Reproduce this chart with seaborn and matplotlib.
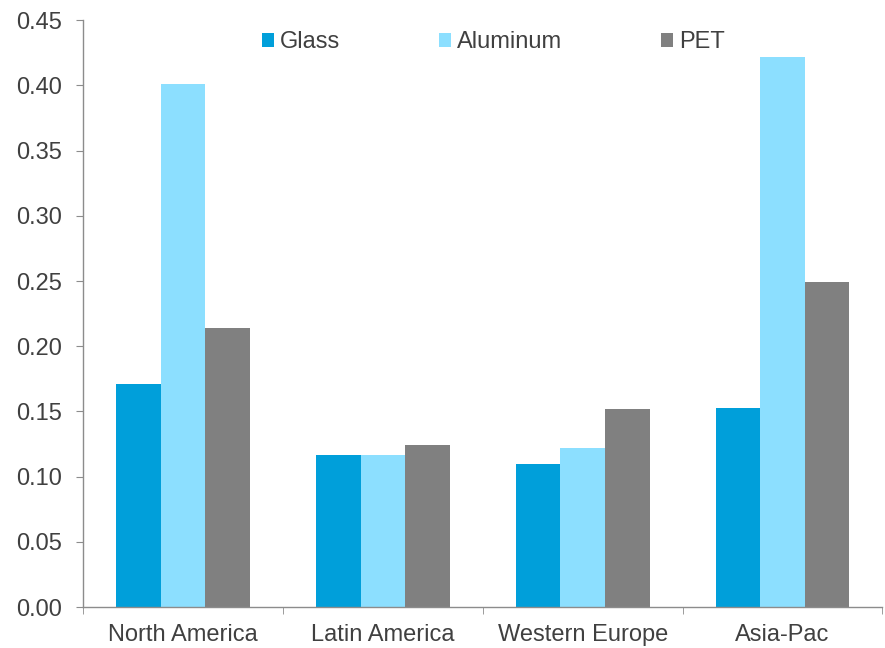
import pandas as pd
import matplotlib.pyplot as plt
import seaborn as sns
from matplotlib.ticker import FixedLocator, FormatStrFormatter

regions = ["North America", "Latin America", "Western Europe", "Asia-Pac"]
materials = ["Glass", "Aluminum", "PET"]
glass = [0.171, 0.117, 0.110, 0.153]
aluminum = [0.401, 0.117, 0.122, 0.422]
pet = [0.214, 0.124, 0.152, 0.249]
colors = ["#009FDA", "#8CDFFF", "#808080"]

df = pd.DataFrame({
    "region": regions * 3,
    "material": ["Glass"] * 4 + ["Aluminum"] * 4 + ["PET"] * 4,
    "value": glass + aluminum + pet,
})

sns.set_style("white")
plt.rcParams["font.family"] = ["Liberation Sans", "DejaVu Sans"]
text_col = "#404040"
axis_col = "#8c8c8c"

fig = plt.figure(figsize=(8.85, 6.48), dpi=100)
ax = fig.add_axes([0.094, 0.063, 0.903, 0.906])

sns.barplot(data=df, x="region", y="value", hue="material", order=regions,
            hue_order=materials, palette=colors, width=0.67, saturation=1,
            ax=ax, linewidth=0)

ax.set_ylim(0, 0.45)
ax.set_xlim(-0.5, 3.5)
ax.set_yticks([i * 0.05 for i in range(10)])
ax.yaxis.set_major_formatter(FormatStrFormatter("%.2f"))
ax.set_xlabel("")
ax.set_ylabel("")

ax.xaxis.set_minor_locator(FixedLocator([-0.5, 0.5, 1.5, 2.5, 3.5]))
ax.tick_params(axis="x", which="major", length=0, labelsize=17,
               labelcolor=text_col, pad=12)
ax.tick_params(axis="x", which="minor", length=5, color=axis_col,
               direction="out", bottom=True)
ax.tick_params(axis="y", length=5, color=axis_col, direction="out",
               labelsize=17, labelcolor=text_col, left=True, pad=10)

for s in ["top", "right"]:
    ax.spines[s].set_visible(False)
for s in ["left", "bottom"]:
    ax.spines[s].set_color(axis_col)
    ax.spines[s].set_linewidth(1)

leg = ax.legend(loc="upper center", bbox_to_anchor=(0.513, 1.017), ncol=3,
                frameon=False, fontsize=17, handlelength=0.5,
                handleheight=0.5, handletextpad=0.25, columnspacing=4.2)
for t in leg.get_texts():
    t.set_color(text_col)

fig.savefig("out.png", dpi=100)
